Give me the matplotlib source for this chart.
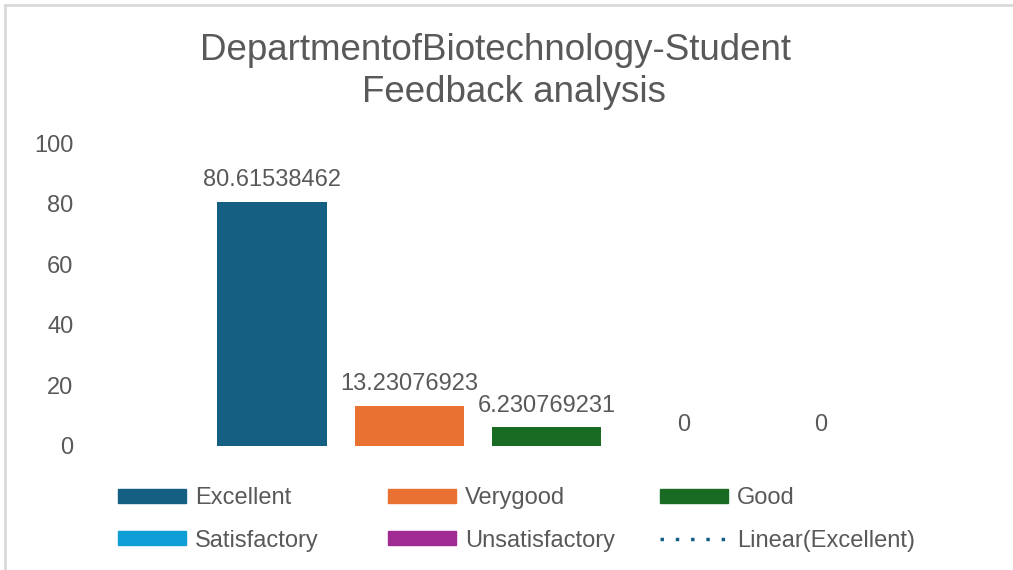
import matplotlib.pyplot as plt
from matplotlib.patches import Patch
from matplotlib.lines import Line2D

plt.rcParams['font.family'] = ['Liberation Sans', 'DejaVu Sans']

# 데이터
categories = ['Excellent', 'Verygood', 'Good', 'Satisfactory', 'Unsatisfactory']
values = [80.61538462, 13.23076923, 6.230769231, 0, 0]
value_labels = ['80.61538462', '13.23076923', '6.230769231', '0', '0']
colors = ['#156082', '#E97132', '#196B24', '#0F9ED5', '#A02B93']
trend_label = 'Linear(Excellent)'
yticks = [0, 20, 40, 60, 80, 100]

W, H = 1013, 570
fig = plt.figure(figsize=(W / 100, H / 100), dpi=100)
txt = '#595959'
fs = 17

# 플롯 영역
ax = fig.add_axes([90 / W, (H - 446) / H, (1000 - 90) / W, (446 - 143) / H])
pos = list(range(len(categories)))
ax.bar(pos, values, width=0.795, color=colors)
for p, v, s in zip(pos, values, value_labels):
    ax.annotate(s, (p, v), xytext=(0, 7.5), textcoords='offset points',
                ha='center', va='bottom', fontsize=fs, color=txt)
ax.set_xlim(-1.326, 5.304)
ax.set_ylim(0, 100)
ax.set_yticks(yticks)
ax.set_xticks([])
ax.tick_params(axis='y', length=0, pad=12, labelsize=fs, labelcolor=txt)
for sp in ax.spines.values():
    sp.set_visible(False)

# 제목
fig.text(495 / W, (H - 50) / H, 'DepartmentofBiotechnology-Student',
         ha='center', va='center', fontsize=26.5, color=txt)
fig.text(514 / W, (H - 93) / H, 'Feedback analysis',
         ha='center', va='center', fontsize=26.5, color=txt)

# 범례 (열마다 따로)
handles = [Patch(color=c) for c in colors]
handles.append(Line2D([], [], color='#156082', lw=2.5, linestyle=(0, (1, 3.4)),
                      dash_capstyle='butt'))
labels = categories + [trend_label]
col_x = [118, 388, 660]
for i, x in enumerate(col_x):
    leg = fig.legend([handles[i], handles[i + 3]], [labels[i], labels[i + 3]],
                     loc='center left', bbox_to_anchor=(x / W, (H - 519.5) / H),
                     frameon=False, fontsize=fs, borderpad=0, borderaxespad=0,
                     handlelength=2.88, handleheight=0.55, handletextpad=0.38,
                     labelspacing=0.86)
    for t in leg.get_texts():
        t.set_color(txt)

# 테두리
fig.add_artist(Line2D([5 / W, 5 / W], [0, (H - 5) / H], color='#d9d9d9', lw=2))
fig.add_artist(Line2D([5 / W, 1], [(H - 5) / H, (H - 5) / H], color='#d9d9d9', lw=2))

fig.savefig('out.png', dpi=100)
